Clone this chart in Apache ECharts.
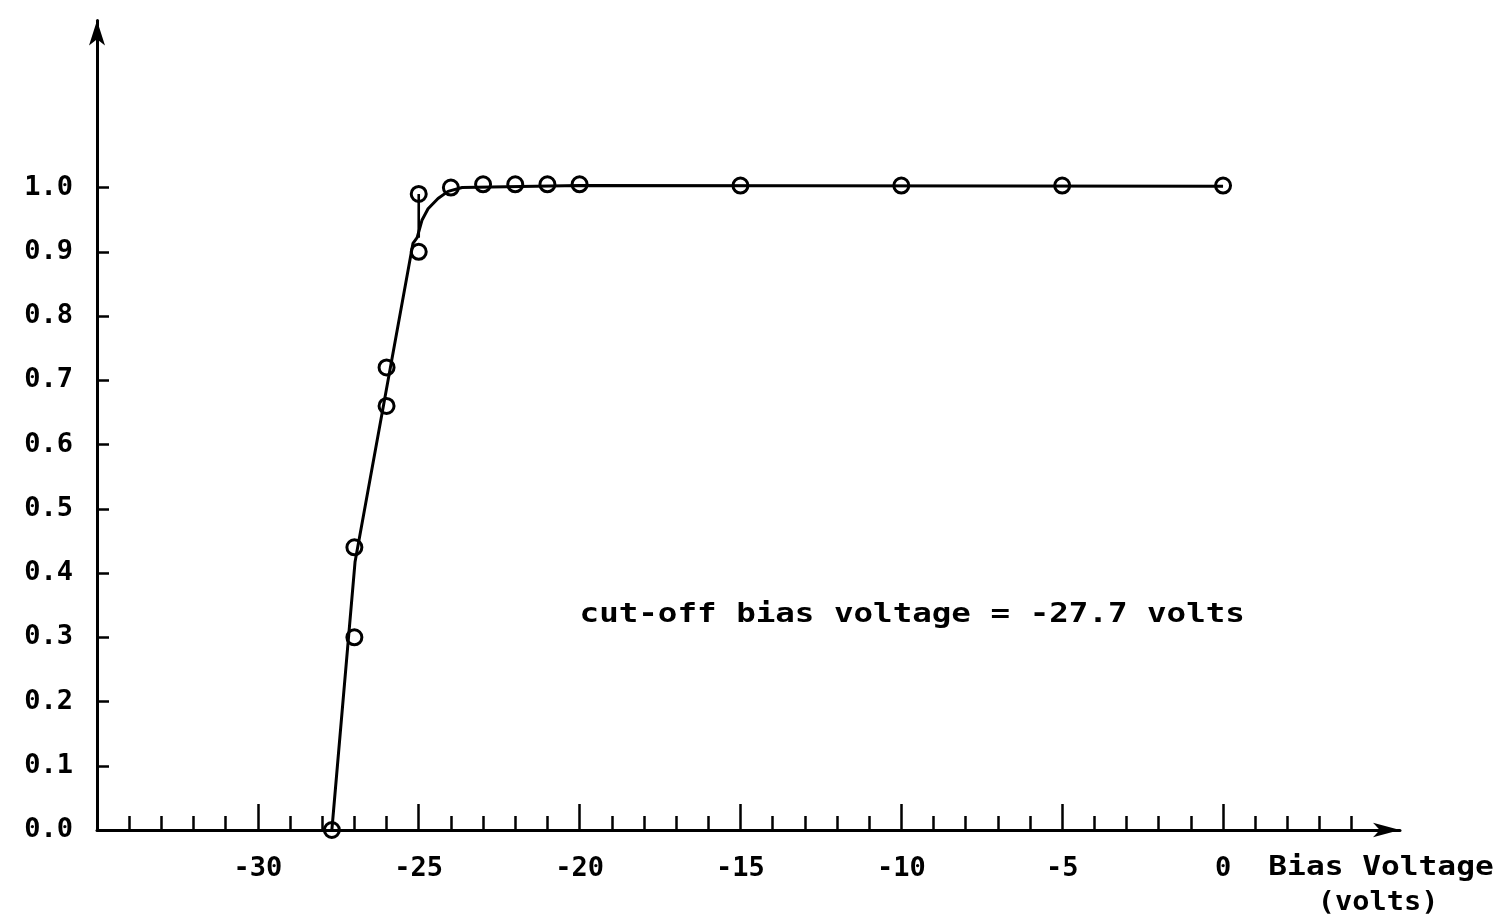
<!DOCTYPE html>
<html>
<head>
<meta charset="utf-8">
<title>Cut-off bias voltage</title>
<script src="https://cdn.jsdelivr.net/npm/echarts@6/dist/echarts.min.js"></script>
<style>
  html, body { margin: 0; padding: 0; background: #ffffff; }
  #chart { width: 1512px; height: 920px; }
</style>
</head>
<body>
<div id="chart"></div>
<script>
// Tick positions on the voltage axis (labelled majors, unlabelled minors)
const majorTicks = [-30, -25, -20, -15, -10, -5, 0];
const minorTicks = [-34, -33, -32, -31, -30, -29, -28, -27, -26, -25, -24, -23, -22, -21, -20,
                    -19, -18, -17, -16, -15, -14, -13, -12, -11, -10, -9, -8, -7, -6, -5,
                    -4, -3, -2, -1, 0, 1, 2, 3, 4];
const yTicks = [0, 0.1, 0.2, 0.3, 0.4, 0.5, 0.6, 0.7, 0.8, 0.9, 1.0];

// Measured points: [bias voltage (V), relative response]
const biasVoltage = [-27.7, -27.0, -27.0, -26.0, -26.0, -25.0, -25.0, -24.0, -23.0, -22.0, -21.0, -20.0, -15.0, -10.0, -5.0, 0.0];
const response    = [0.0,   0.30,  0.44,  0.72,  0.66,  0.90,  0.99,  1.0,   1.005, 1.005, 1.005, 1.005, 1.003, 1.003, 1.003, 1.003];

// Hand-fitted curve through the measurements
const fitVoltage  = [-27.7, -26.98, -25.18, -25.05, -24.90, -24.71, -24.40, -24.09, -23.65, -20.0, 0.0];
const fitResponse = [0.0,   0.417,  0.913,  0.922,  0.949,  0.967,  0.983,  0.994,  1.0,    1.003, 1.002];

// Short connector from the -25 V reading down to the fitted curve
const stubVoltage  = [-25.0, -25.0];
const stubResponse = [0.99, 0.922];

const annotation = 'cut-off bias voltage = -27.7 volts';
const axisTitle = ['Bias Voltage', '(volts)'];

const FONT = '"DejaVu Sans Mono", "Liberation Mono", monospace';
const INK = '#000000';

const zip = (xs, ys) => xs.map((x, i) => [x, ys[i]]);

const chart = echarts.init(document.getElementById('chart'), null, { renderer: 'canvas' });

const labelStyle = { color: INK, fontFamily: FONT, fontSize: 27, fontWeight: 'bold' };

const option = {
  animation: false,
  backgroundColor: '#ffffff',
  grid: { left: 97, top: 20.5, width: 1303, height: 809.5, containLabel: false },
  xAxis: [
    {
      type: 'value', min: -35, max: 5.5, position: 'bottom',
      splitLine: { show: false },
      axisLine: {
        show: true, onZero: false,
        symbol: ['none', 'arrow'], symbolSize: [11, 27],
        lineStyle: { color: INK, width: 3 }
      },
      axisTick: {
        show: true, inside: true, length: 26, customValues: majorTicks,
        lineStyle: { color: INK, width: 2.5 }
      },
      axisLabel: Object.assign({ show: true, customValues: majorTicks, margin: 25 }, labelStyle)
    },
    {
      type: 'value', min: -35, max: 5.5, position: 'bottom',
      splitLine: { show: false },
      axisLine: { show: false, onZero: false },
      axisTick: {
        show: true, inside: true, length: 14, customValues: minorTicks,
        lineStyle: { color: INK, width: 2.5 }
      },
      axisLabel: { show: false }
    }
  ],
  yAxis: {
    type: 'value', min: 0, max: 1.26,
    splitLine: { show: false },
    axisLine: {
      show: true, onZero: false,
      symbol: ['none', 'arrow'], symbolSize: [12, 25],
      lineStyle: { color: INK, width: 3 }
    },
    axisTick: {
      show: true, inside: true, length: 12, customValues: yTicks,
      lineStyle: { color: INK, width: 2.5 }
    },
    axisLabel: Object.assign({
      show: true, customValues: yTicks, margin: 24,
      formatter: v => v.toFixed(1)
    }, labelStyle)
  },
  series: [
    {
      name: 'fit', type: 'line', xAxisIndex: 0, yAxisIndex: 0,
      data: zip(fitVoltage, fitResponse),
      symbol: 'none', smooth: false,
      lineStyle: { color: INK, width: 3 },
      z: 2
    },
    {
      name: 'connector', type: 'line', xAxisIndex: 0, yAxisIndex: 0,
      data: zip(stubVoltage, stubResponse),
      symbol: 'none',
      lineStyle: { color: INK, width: 2.6 },
      z: 2
    },
    {
      name: 'measured', type: 'scatter', xAxisIndex: 0, yAxisIndex: 0,
      data: zip(biasVoltage, response),
      symbol: 'circle', symbolSize: 15,
      itemStyle: { color: 'rgba(0,0,0,0)', borderColor: INK, borderWidth: 3, opacity: 1 },
      emphasis: { disabled: true },
      z: 3
    }
  ]
};

chart.setOption(option);

// Text placed in data coordinates once the axes exist
const at = (x, y) => chart.convertToPixel({ xAxisIndex: 0, yAxisIndex: 0 }, [x, y]);
const pA = at(-20.0, 0.334);
const pT1 = at(4.91, -0.059);
const pT2 = at(4.82, -0.114);

const textEl = (p, text, align, sx) => ({
  type: 'text',
  x: p[0], y: p[1],
  scaleX: sx, scaleY: 1,
  silent: true,
  style: {
    text: text,
    font: 'bold 26px ' + FONT,
    fill: INK,
    textAlign: align, align: align,
    textVerticalAlign: 'middle', verticalAlign: 'middle'
  }
});

chart.setOption({
  graphic: [
    textEl(pA, annotation, 'left', 1.25),
    textEl(pT1, axisTitle[0], 'center', 1.2),
    textEl(pT2, axisTitle[1], 'center', 1.1)
  ]
});
</script>
</body>
</html>
